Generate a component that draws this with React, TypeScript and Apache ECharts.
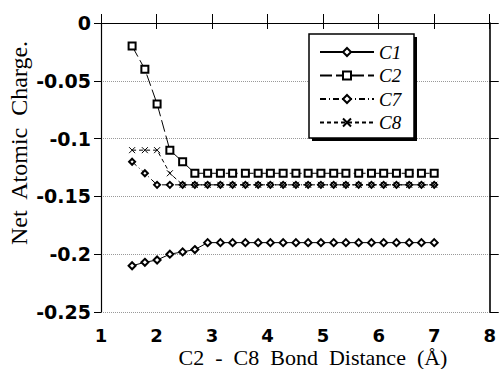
import React, { useEffect, useRef } from "react";
import * as echarts from "echarts";

const xValues = [1.56, 1.79, 2.01, 2.24, 2.47, 2.69, 2.92, 3.15, 3.37, 3.6, 3.83, 4.05, 4.28, 4.51, 4.73, 4.96, 5.19, 5.41, 5.64, 5.87, 6.09, 6.32, 6.55, 6.77, 7.0];
const c1 = [-0.21, -0.207, -0.205, -0.2, -0.198, -0.196, -0.19, -0.19, -0.19, -0.19, -0.19, -0.19, -0.19, -0.19, -0.19, -0.19, -0.19, -0.19, -0.19, -0.19, -0.19, -0.19, -0.19, -0.19, -0.19];
const c2 = [-0.02, -0.04, -0.07, -0.11, -0.12, -0.13, -0.13, -0.13, -0.13, -0.13, -0.13, -0.13, -0.13, -0.13, -0.13, -0.13, -0.13, -0.13, -0.13, -0.13, -0.13, -0.13, -0.13, -0.13, -0.13];
const c7 = [-0.12, -0.13, -0.14, -0.14, -0.14, -0.14, -0.14, -0.14, -0.14, -0.14, -0.14, -0.14, -0.14, -0.14, -0.14, -0.14, -0.14, -0.14, -0.14, -0.14, -0.14, -0.14, -0.14, -0.14, -0.14];
const c8 = [-0.11, -0.11, -0.11, -0.13, -0.14, -0.14, -0.14, -0.14, -0.14, -0.14, -0.14, -0.14, -0.14, -0.14, -0.14, -0.14, -0.14, -0.14, -0.14, -0.14, -0.14, -0.14, -0.14, -0.14, -0.14];
const seriesNames = ["C1", "C2", "C7", "C8"];
const xTitle = "C2  -  C8  Bond  Distance  (Å)";
const yTitle = "Net  Atomic  Charge.";

const pair = (ys: number[]) => xValues.map((x, i) => [x, ys[i]]);

export default function App() {
  const ref = useRef<HTMLDivElement>(null);
  useEffect(() => {
    if (!ref.current) return;
    const chart = echarts.init(ref.current, null, { renderer: "svg" });
    const labelFont = { fontFamily: "DejaVu Sans", fontWeight: "bold" as const, fontSize: 19, color: "#000" };
    const axisLine = { show: true, lineStyle: { color: "#000", width: 1.2 } };
    chart.setOption({
      animation: false,
      backgroundColor: "#fff",
      grid: { left: 101, right: 9, top: 23, bottom: 57 },
      xAxis: [
        {
          type: "value", position: "bottom", min: 1, max: 8, interval: 1,
          axisLine, axisTick: { show: true, inside: false, length: 6, lineStyle: { color: "#000" } },
          axisLabel: { ...labelFont, fontSize: 18, lineHeight: 18, margin: 14 },
          splitLine: { show: false },
        },
        {
          type: "value", position: "top", min: 1, max: 8, interval: 1,
          axisLine, axisTick: { show: true, inside: false, length: 9, lineStyle: { color: "#000" } },
          axisLabel: { show: false }, splitLine: { show: false },
        },
      ],
      yAxis: [
        {
          type: "value", position: "left", min: -0.25, max: 0, interval: 0.05,
          axisLine, axisTick: { show: true, inside: false, length: 7, lineStyle: { color: "#000" } },
          axisLabel: { ...labelFont, margin: 10 },
          splitLine: { show: true, lineStyle: { color: "#999", type: "dotted", width: 1 } },
        },
        {
          type: "value", position: "right", min: -0.25, max: 0, interval: 0.05,
          axisLine: { show: true, lineStyle: { color: "#000", width: 1.6 } },
          axisTick: { show: true, inside: false, length: 9, lineStyle: { color: "#000" } },
          axisLabel: { show: false }, splitLine: { show: false },
        },
      ],
      legend: {
        data: seriesNames, orient: "vertical", left: 319, top: 42, padding: 0,
        itemWidth: 54, itemHeight: 10, itemGap: 3.5, itemTextGap: 5, z: 100,
        textStyle: { fontFamily: "Liberation Serif", fontStyle: "italic", fontSize: 19, lineHeight: 20, color: "#000" },
      },
      graphic: [
        { type: "rect", z: 50, shape: { x: 312, y: 37, width: 105, height: 104 }, style: { fill: "#000" } },
        { type: "rect", z: 51, shape: { x: 309, y: 34, width: 105, height: 104 }, style: { fill: "#fff", stroke: "#000", lineWidth: 1.5 } },
        { type: "text", z: 60, x: 313, y: 357, style: { text: xTitle, font: "22px 'Liberation Serif'", lineHeight: 22, fill: "#000", align: "center", verticalAlign: "middle" } },
        { type: "text", z: 60, x: 19, y: 143, rotation: Math.PI / 2, style: { text: yTitle, font: "24px 'Liberation Serif'", fill: "#000", align: "center", verticalAlign: "middle" } },
      ],
      series: [
        {
          type: "line", name: "C1", data: pair(c1), symbol: "emptyDiamond", symbolSize: 7, color: "#000",
          lineStyle: { color: "#000", width: 1 }, itemStyle: { color: "#000", borderWidth: 1 },
        },
        {
          type: "line", name: "C2", data: pair(c2), symbol: "emptyRect", symbolSize: 7, color: "#000",
          lineStyle: { color: "#000", width: 1, type: [12, 4] }, itemStyle: { color: "#000", borderWidth: 1 },
        },
        {
          type: "line", name: "C7", data: pair(c7), symbol: "emptyDiamond", symbolSize: 6, color: "#000",
          lineStyle: { color: "#000", width: 1, type: [6, 3, 1, 3] }, itemStyle: { color: "#000", borderWidth: 1 },
        },
        {
          type: "line", name: "C8", data: pair(c8), symbol: "path://M0,0L10,10M10,0L0,10", symbolSize: 6, color: "#000",
          lineStyle: { color: "#000", width: 1, type: [4, 3] }, itemStyle: { color: "#000", borderColor: "#000", borderWidth: 1 },
        },
      ],
    });
    return () => chart.dispose();
  }, []);
  return <div ref={ref} style={{ width: 499, height: 369, position: "absolute", left: 0, top: 0 }} />;
}
